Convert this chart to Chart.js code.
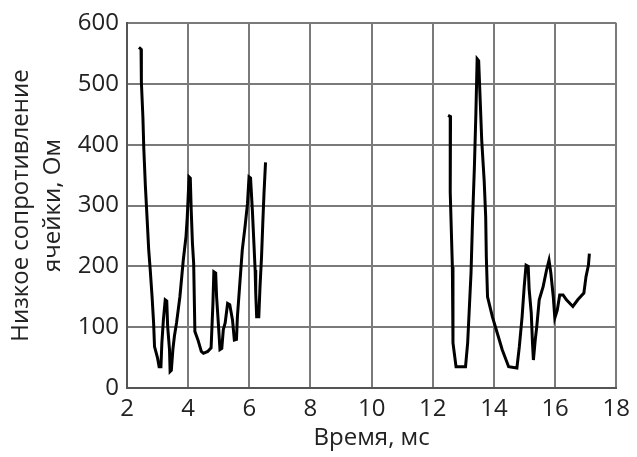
<!DOCTYPE html>
<html lang="ru">
<head>
<meta charset="UTF-8">
<title>Сопротивление ячейки</title>
<script src="https://cdn.jsdelivr.net/npm/chart.js"></script>
<style>
    body { margin: 0; background: #fff; }
</style>
</head>
<body>
<canvas id="myChart" width="637" height="457"></canvas>
<script>
    // первый участок записи
    const timeA = [2.39, 2.46, 2.47, 2.52, 2.55, 2.6, 2.66, 2.71, 2.76, 2.82, 2.87, 2.9, 3.0, 3.05, 3.11, 3.14,
        3.19, 3.25, 3.3, 3.33, 3.39, 3.41, 3.45, 3.5, 3.55, 3.62, 3.73, 3.84, 3.93, 3.97, 4.0, 4.03,
        4.07, 4.1, 4.14, 4.18, 4.22, 4.32, 4.43, 4.5, 4.64, 4.75, 4.81, 4.84, 4.9, 4.93, 5.0, 5.04,
        5.1, 5.15, 5.21, 5.29, 5.36, 5.45, 5.51, 5.58, 5.61, 5.69, 5.77, 5.86, 5.94, 5.99, 6.04, 6.1,
        6.15, 6.19, 6.21, 6.24, 6.31, 6.35, 6.4, 6.44, 6.48, 6.53];
    const resA = [560, 557, 503, 445, 393, 333, 276, 227, 194, 150, 107, 68, 49, 35, 35, 74,
        112, 145, 143, 101, 63, 27, 29, 63, 85, 107, 150, 210, 249, 281, 314, 347,
        345, 292, 238, 205, 93, 79, 60, 57, 60, 66, 139, 191, 189, 150, 96, 63,
        65, 96, 107, 139, 137, 112, 79, 80, 117, 172, 227, 265, 303, 347, 345, 292,
        238, 194, 156, 117, 117, 167, 216, 270, 320, 371];

    // второй участок записи
    const timeB = [12.5, 12.58, 12.57, 12.64, 12.66, 12.76, 13.07, 13.14, 13.25, 13.3, 13.36, 13.41, 13.45, 13.5,
        13.55, 13.6, 13.68, 13.73, 13.75, 13.79, 13.95, 14.11, 14.27, 14.48, 14.75, 14.83, 14.92, 14.99,
        15.05, 15.12, 15.15, 15.22, 15.26, 15.29, 15.35, 15.4, 15.48, 15.61, 15.72, 15.8, 15.86, 15.94,
        15.99, 16.07, 16.15, 16.26, 16.37, 16.58, 16.74, 16.94, 17.01, 17.09, 17.12];
    const resB = [448, 446, 322, 199, 74, 35, 35, 74, 189, 276, 363, 453, 541, 538,
        473, 407, 341, 281, 216, 150, 117, 90, 63, 35, 33, 68, 117, 167,
        202, 200, 163, 123, 74, 46, 79, 101, 145, 167, 194, 210, 189, 150,
        115, 128, 153, 153, 145, 134, 145, 156, 183, 202, 221];

    const xTicks = [2, 4, 6, 8, 10, 12, 14, 16, 18];
    const yTicks = [0, 100, 200, 300, 400, 500, 600];

    const ctx = document.getElementById('myChart');
    const fontFamily = "'Open Sans', sans-serif";
    const gridColor = '#7a7a7a';
    const textColor = '#222';

    function points(xs, ys) {
        return xs.map((x, i) => ({ x: x, y: ys[i] }));
    }

    const lineStyle = {
        borderColor: '#000',
        borderWidth: 3,
        pointRadius: 0,
        tension: 0,
        fill: false
    };

    new Chart(ctx, {
        type: 'line',
        data: {
            datasets: [
                Object.assign({ data: points(timeA, resA) }, lineStyle),
                Object.assign({ data: points(timeB, resB) }, lineStyle)
            ]
        },
        options: {
            responsive: false,
            animation: false,
            layout: { padding: { top: 23, right: 14, left: 0, bottom: 0 } },
            plugins: {
                legend: { display: false },
                tooltip: { enabled: false }
            },
            scales: {
                x: {
                    type: 'linear',
                    min: 2,
                    max: 18,
                    afterBuildTicks: (scale) => { scale.ticks = xTicks.map(v => ({ value: v })); },
                    afterFit: (scale) => { scale.height = 69; },
                    grid: { color: gridColor, lineWidth: 2, drawTicks: false },
                    border: { color: '#555', width: 2 },
                    ticks: {
                        color: textColor,
                        padding: 7,
                        maxRotation: 0,
                        font: { family: fontFamily, size: 24 }
                    },
                    title: {
                        display: true,
                        text: 'Время, мс',
                        color: textColor,
                        padding: { top: 0, bottom: 4 },
                        font: { family: fontFamily, size: 24 }
                    }
                },
                y: {
                    min: 0,
                    max: 600,
                    afterBuildTicks: (scale) => { scale.ticks = yTicks.map(v => ({ value: v })); },
                    afterFit: (scale) => { scale.width = 127; },
                    grid: { color: gridColor, lineWidth: 2, drawTicks: false },
                    border: { color: '#555', width: 2 },
                    ticks: {
                        color: textColor,
                        padding: 8,
                        font: { family: fontFamily, size: 24 }
                    },
                    title: {
                        display: true,
                        text: ['Низкое сопротивление', 'ячейки, Ом'],
                        color: textColor,
                        padding: { top: 6, bottom: 0 },
                        font: { family: fontFamily, size: 24, lineHeight: 1.3 }
                    }
                }
            }
        }
    });
</script>
</body>
</html>
